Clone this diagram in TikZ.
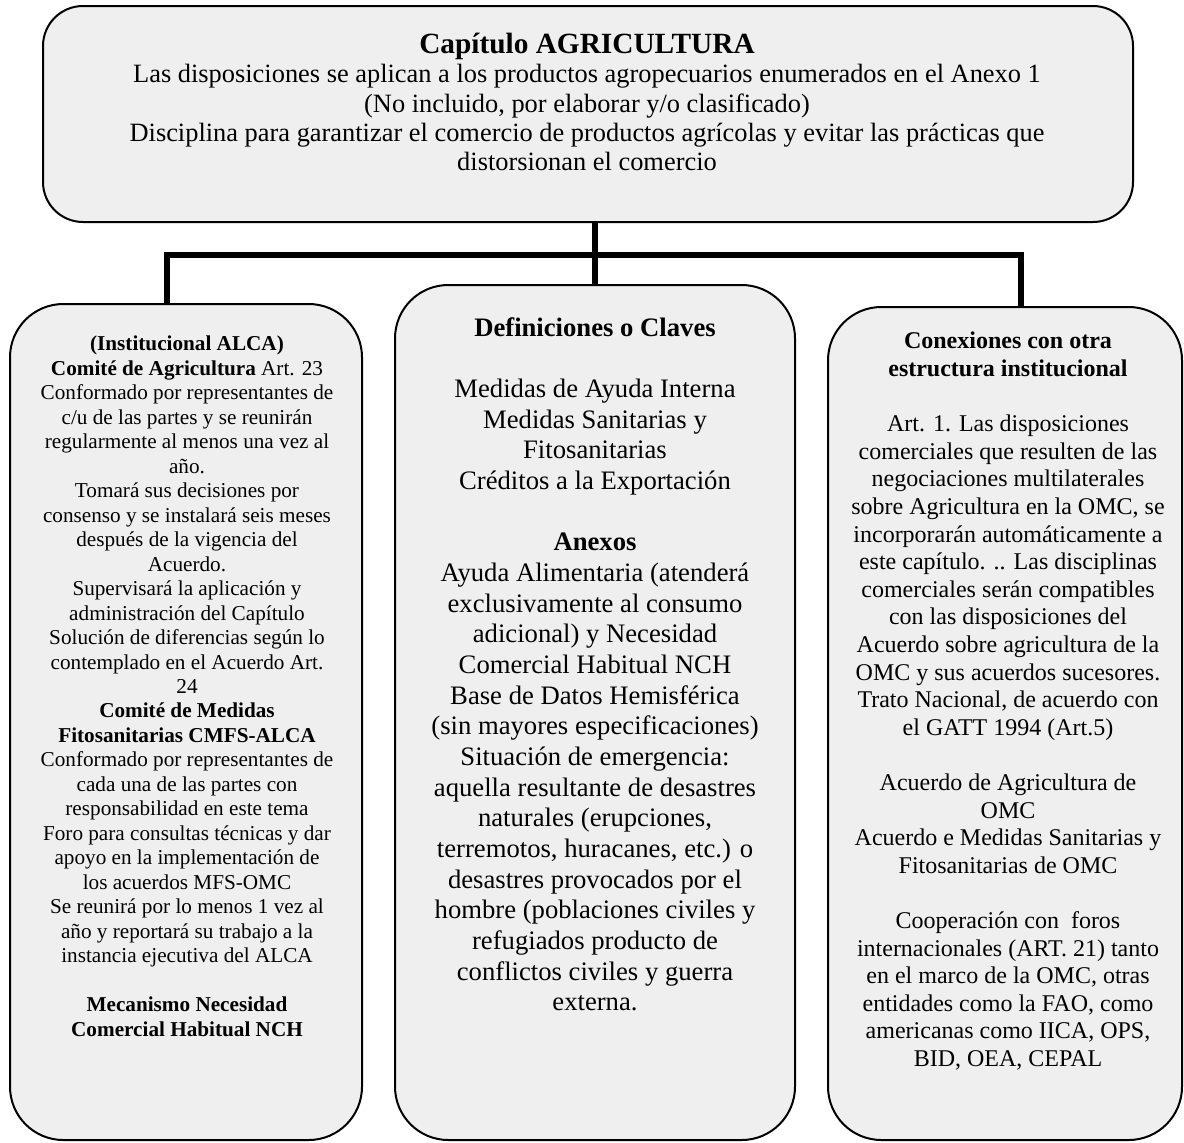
\documentclass[tikz,border=0pt]{standalone}
\usepackage{fontspec}
\setmainfont{Liberation Serif}
\definecolor{boxfill}{HTML}{EFEFEF}
\begin{document}
\begin{tikzpicture}[x=0.75pt,y=-0.75pt,
  box/.style={draw=black, line width=1.5pt, fill=boxfill, rounded corners=40pt, inner sep=0pt},
  txt/.style={anchor=north, align=center, inner sep=0pt},
  conn/.style={line width=4pt, line join=miter}]
\useasboundingbox (0,0) rectangle (1184,1142);
% boxes
\node[box, rounded corners=30pt, minimum width=817.5pt, minimum height=162pt] (top) at (588,114) {};
\node[box, minimum width=264pt, minimum height=627pt] (left) at (186,722) {};
\node[box, minimum width=300pt, minimum height=641.25pt] (mid) at (595,712.5) {};
\node[box, minimum width=265.5pt, minimum height=624.75pt] (right) at (1005,723.5) {};
% connectors
\coordinate (hub) at (595,255);
\coordinate (jl) at (167,255);
\coordinate (jr) at (1021,255);
\draw[conn] (top.south -| hub) -- (mid.north -| hub);
\draw[conn] (jl |- left.north) -- (jl) -- (jr) -- (jr |- right.north);
% texts
\node[txt, font=\fontsize{19.8}{22}\selectfont] (toptxt) at (587,33) {%
{\fontsize{22}{22}\selectfont\bfseries Capítulo AGRICULTURA}\\
Las disposiciones se aplican a los productos agropecuarios enumerados en el Anexo 1\\
(No incluido, por elaborar y/o clasificado)\\
Disciplina para garantizar el comercio de productos agrícolas y evitar las prácticas que\\
distorsionan el comercio};
\node[txt, font=\fontsize{15.9}{18.35}\selectfont] (lefttxt) at (187,336) {%
{\bfseries (Institucional ALCA)}\\
{\bfseries Comité de Agricultura} Art. 23\\
Conformado por representantes de\\
c/u de las partes y se reunirán\\
regularmente al menos una vez al\\
año.\\
Tomará sus decisiones por\\
consenso y se instalará seis meses\\
después de la vigencia del\\
Acuerdo.\\
Supervisará la aplicación y\\
administración del Capítulo\\
Solución de diferencias según lo\\
contemplado en el Acuerdo Art.\\
24\\
{\bfseries Comité de Medidas}\\
{\bfseries Fitosanitarias CMFS-ALCA}\\
Conformado por representantes de\\
cada una de las partes con\\
responsabilidad en este tema\\
Foro para consultas técnicas y dar\\
apoyo en la implementación de\\
los acuerdos MFS-OMC\\
Se reunirá por lo menos 1 vez al\\
año y reportará su trabajo a la\\
instancia ejecutiva del ALCA\\[18.35pt]
{\bfseries Mecanismo Necesidad}\\
{\bfseries Comercial Habitual NCH}};
\node[txt, font=\fontsize{20}{23}\selectfont] (midtxt) at (595,317) {%
{\bfseries Definiciones o Claves}\\[23pt]
Medidas de Ayuda Interna\\
Medidas Sanitarias y\\
Fitosanitarias\\
Créditos a la Exportación\\[23pt]
{\bfseries Anexos}\\
Ayuda Alimentaria (atenderá\\
exclusivamente al consumo\\
adicional) y Necesidad\\
Comercial Habitual NCH\\
Base de Datos Hemisférica\\
(sin mayores especificaciones)\\
Situación de emergencia:\\
aquella resultante de desastres\\
naturales (erupciones,\\
terremotos, huracanes, etc.) o\\
desastres provocados por el\\
hombre (poblaciones civiles y\\
refugiados producto de\\
conflictos civiles y guerra\\
externa.};
\node[txt, font=\fontsize{18}{20.7}\selectfont] (righttxt) at (1008,332) {%
{\bfseries Conexiones con otra}\\
{\bfseries estructura institucional}\\[20.7pt]
Art. 1. Las disposiciones\\
comerciales que resulten de las\\
negociaciones multilaterales\\
sobre Agricultura en la OMC, se\\
incorporarán automáticamente a\\
este capítulo. .. Las disciplinas\\
comerciales serán compatibles\\
con las disposiciones del\\
Acuerdo sobre agricultura de la\\
OMC y sus acuerdos sucesores.\\
Trato Nacional, de acuerdo con\\
el GATT 1994 (Art.5)\\[20.7pt]
Acuerdo de Agricultura de\\
OMC\\
Acuerdo e Medidas Sanitarias y\\
Fitosanitarias de OMC\\[20.7pt]
Cooperación con\ \ foros\\
internacionales (ART. 21) tanto\\
en el marco de la OMC, otras\\
entidades como la FAO, como\\
americanas como IICA, OPS,\\
BID, OEA, CEPAL};
\end{tikzpicture}
\end{document}
